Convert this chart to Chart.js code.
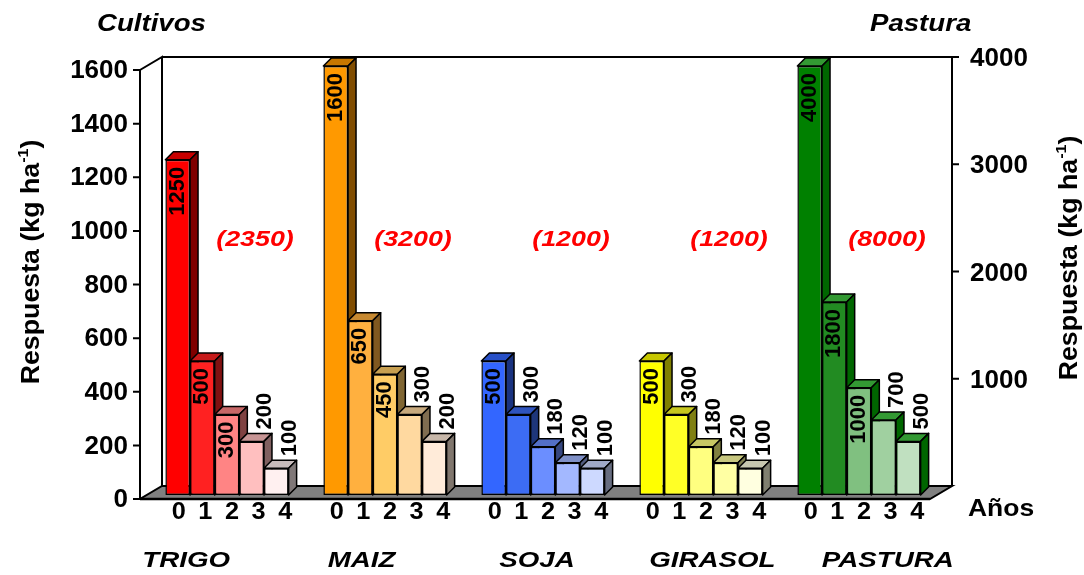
<!DOCTYPE html>
<html><head><meta charset="utf-8">
<script src="https://cdn.jsdelivr.net/npm/chart.js@4.4.1/dist/chart.umd.min.js"></script>
<style>html,body{margin:0;padding:0;background:#fff}canvas{display:block}</style>
</head><body>
<canvas id="c" width="1084" height="575"></canvas>
<script>
// ---------- data ----------
const groups = ['TRIGO', 'MAIZ', 'SOJA', 'GIRASOL', 'PASTURA'];
const years = ['0', '1', '2', '3', '4'];
const trigo = [1250, 500, 300, 200, 100];
const maiz = [1600, 650, 450, 300, 200];
const soja = [500, 300, 180, 120, 100];
const girasol = [500, 300, 180, 120, 100];
const pastura = [4000, 1800, 1000, 700, 500];
const leftTicks = [0, 200, 400, 600, 800, 1000, 1200, 1400, 1600];
const rightTicks = [1000, 2000, 3000, 4000];
const leftTitle = 'Cultivos';
const rightTitle = 'Pastura';
const axisTitle = ['Respuesta (kg ha', '-1', ')'];
const yearsTitle = 'Años';

const cropSeries = [trigo, maiz, soja, girasol];

// ---------- styles ----------
const FONT = '"Liberation Sans", Arial, Helvetica, sans-serif';
const colors = {
  TRIGO:   ['#FF0000', '#FF2121', '#FF8484', '#FFBFBF', '#FFF0F0'],
  MAIZ:    ['#FF9900', '#FFB03F', '#FFCC66', '#FFD9A0', '#FFEBD9'],
  SOJA:    ['#3366FF', '#3C6CF4', '#6B8EFF', '#A3B8FF', '#CDD9FF'],
  GIRASOL: ['#FFFF00', '#FFFF26', '#FFFF80', '#FFFFA3', '#FFFFE0'],
  PASTURA: ['#008000', '#228B22', '#80C080', '#A0D0A0', '#C0E0C0']
};
const pasturaTop = '#339933', pasturaSide = '#006600';
const labelsInside = [3, 3, 1, 1, 3];

function shade(hex, f) {
  const n = parseInt(hex.slice(1), 16);
  const r = Math.round(((n >> 16) & 255) * f), g = Math.round(((n >> 8) & 255) * f), b = Math.round((n & 255) * f);
  return 'rgb(' + r + ',' + g + ',' + b + ')';
}

const datasets = [];
years.forEach((yr, k) => {
  datasets.push({
    label: 'Año ' + yr, yAxisID: 'y',
    data: cropSeries.map(s => s[k]).concat([null]),
    backgroundColor: groups.slice(0, 4).map(g => colors[g][k]).concat(['rgba(0,0,0,0)'])
  });
});
years.forEach((yr, k) => {
  datasets.push({
    label: 'Pastura año ' + yr, yAxisID: 'y2',
    data: [null, null, null, null, pastura[k]],
    backgroundColor: colors.PASTURA[k]
  });
});

// 3D geometry
const DX = 22, DY = -13;   // frame depth
const BX = 8, BY = -8;     // bar depth

function poly(ctx, pts, fill) {
  ctx.beginPath();
  ctx.moveTo(pts[0][0], pts[0][1]);
  for (let i = 1; i < pts.length; i++) ctx.lineTo(pts[i][0], pts[i][1]);
  ctx.closePath();
  if (fill) { ctx.fillStyle = fill; ctx.fill(); }
  ctx.stroke();
}
function txt(ctx, s, x, y, o) {
  ctx.save();
  ctx.translate(x, y);
  if (o.rot) ctx.rotate(o.rot);
  ctx.scale(o.sx || 1, 1);
  ctx.font = o.font;
  ctx.textAlign = o.align || 'left';
  ctx.textBaseline = o.baseline || 'middle';
  ctx.fillStyle = o.color || '#000';
  ctx.fillText(s, 0, 0);
  ctx.restore();
}
function drawAxisTitle(ctx, cx, cy) {
  ctx.save();
  ctx.translate(cx, cy);
  ctx.rotate(-Math.PI / 2);
  ctx.scale(1.07, 1);
  const f1 = 'bold 25px ' + FONT, f2 = 'bold 15px ' + FONT;
  ctx.font = f1;
  const w1 = ctx.measureText(axisTitle[0]).width, w3 = ctx.measureText(axisTitle[2]).width;
  ctx.font = f2;
  const w2 = ctx.measureText(axisTitle[1]).width;
  const x0 = -(w1 + w2 + w3) / 2, base = 9;
  ctx.textAlign = 'left'; ctx.textBaseline = 'alphabetic'; ctx.fillStyle = '#000';
  ctx.font = f1; ctx.fillText(axisTitle[0], x0, base);
  ctx.font = f2; ctx.fillText(axisTitle[1], x0 + w1, base - 11);
  ctx.font = f1; ctx.fillText(axisTitle[2], x0 + w1 + w2, base);
  ctx.restore();
}

function barsOfGroup(chart, i) {
  const out = [];
  const start = i < 4 ? 0 : 5;
  for (let k = 0; k < 5; k++) {
    out.push(chart.getDatasetMeta(start + k).data[i]);
  }
  return out;
}

const threeD = {
  id: 'threeD',
  beforeDatasetsDraw(chart) {
    const ctx = chart.ctx, ca = chart.chartArea, ys = chart.scales.y, y2 = chart.scales.y2;
    const fx = ca.left - 8, fy0 = ys.getPixelForValue(0) + 4, fyTop = ys.getPixelForValue(leftTicks[leftTicks.length - 1]) + 4;
    const frx = ca.right - 8;
    const bx = fx + DX, brx = frx + DX, byTop = fyTop + DY, by0 = fy0 + DY;
    ctx.save();
    ctx.strokeStyle = '#000'; ctx.lineWidth = 2; ctx.lineJoin = 'miter';
    ctx.beginPath();
    ctx.moveTo(fx, fy0); ctx.lineTo(fx, fyTop); ctx.lineTo(bx, byTop); ctx.lineTo(bx, by0);
    ctx.moveTo(bx, byTop); ctx.lineTo(brx, byTop); ctx.lineTo(brx, by0);
    ctx.stroke();
    poly(ctx, [[fx, fy0], [frx, fy0], [brx, by0], [bx, by0]], '#808080');
    ctx.lineWidth = 2.5;
    ctx.beginPath(); ctx.moveTo(fx, fy0); ctx.lineTo(frx, fy0); ctx.stroke();
    ctx.lineWidth = 2;
    ctx.beginPath();
    leftTicks.forEach(v => { const y = ys.getPixelForValue(v) + 4; ctx.moveTo(fx - 7, y); ctx.lineTo(fx, y); });
    rightTicks.forEach(v => { const y = y2.getPixelForValue(v) + 4 + DY; ctx.moveTo(brx, y); ctx.lineTo(brx + 7, y); });
    ctx.stroke();
    ctx.restore();
  },
  afterDatasetsDraw(chart) {
    const ctx = chart.ctx, ys = chart.scales.y, xs = chart.scales.x;
    const fy0 = ys.getPixelForValue(0) + 4;
    const allData = [trigo, maiz, soja, girasol, pastura];
    ctx.save();
    ctx.strokeStyle = '#000'; ctx.lineWidth = 1.5; ctx.lineJoin = 'round';
    for (let i = 0; i < groups.length; i++) {
      const bars = barsOfGroup(chart, i);
      const base = colors[groups[i]];
      bars.forEach((el, k) => {
        if (k > 0) el.draw(ctx);
        const p = el.getProps(['x', 'y', 'base', 'width'], true);
        const l = p.x - p.width / 2, r = p.x + p.width / 2;
        const topC = i === 4 ? pasturaTop : shade(base[k], 0.78);
        const sideC = i === 4 ? pasturaSide : shade(base[k], 0.5);
        ctx.strokeStyle = '#000'; ctx.lineWidth = 1.5;
        poly(ctx, [[l, p.y], [l + BX, p.y + BY], [r + BX, p.y + BY], [r, p.y]], topC);
        poly(ctx, [[r, p.y], [r + BX, p.y + BY], [r + BX, p.base + BY], [r, p.base]], sideC);
      });
    }
    for (let i = 0; i < groups.length; i++) {
      const bars = barsOfGroup(chart, i);
      const vals = allData[i];
      bars.forEach((el, k) => {
        const p = el.getProps(['x', 'y', 'base', 'width'], true);
        const inside = k < labelsInside[i];
        const font = 'bold 22px ' + FONT;
        if (inside) {
          txt(ctx, String(vals[k]), p.x, p.y + 7, { font, rot: -Math.PI / 2, align: 'right' });
        } else {
          txt(ctx, String(vals[k]), p.x + p.width / 2 + 1, p.y - 12, { font, rot: -Math.PI / 2, align: 'left' });
        }
        txt(ctx, years[k], p.x + 1 + 2 * k, fy0 + 14, { font: 'bold 23px ' + FONT, align: 'center', sx: 1.1 });
      });
      const total = vals.reduce((a, b) => a + b, 0);
      txt(ctx, '(' + total + ')', xs.getPixelForValue(i) + 28, ys.getPixelForValue(950), { font: 'italic bold 22px ' + FONT, align: 'center', color: '#FF0000', sx: 1.22 });
      const mid = xs.getPixelForValue(2);
      const cx = xs.getPixelForValue(i);
      txt(ctx, groups[i], mid + (cx - mid) * 1.11 - 6, fy0 + 62, { font: 'italic bold 22px ' + FONT, align: 'center', sx: 1.26 });
    }
    ctx.restore();
  },
  afterDraw(chart) {
    const ctx = chart.ctx, ca = chart.chartArea, ys = chart.scales.y;
    const fy0 = ys.getPixelForValue(0) + 4;
    txt(ctx, leftTitle, 97, 25, { font: 'italic bold 23px ' + FONT, sx: 1.2 });
    txt(ctx, rightTitle, 870, 25, { font: 'italic bold 23px ' + FONT, sx: 1.2 });
    txt(ctx, yearsTitle, ca.right + 30, fy0 + 11, { font: 'bold 23px ' + FONT, sx: 1.15 });
    drawAxisTitle(ctx, 30, 262);
    drawAxisTitle(ctx, 1068, 258);
  }
};

new Chart(document.getElementById('c'), {
  type: 'bar',
  data: { labels: groups, datasets },
  plugins: [threeD],
  options: {
    responsive: false, animation: false, events: [], devicePixelRatio: 1,
    layout: { padding: { top: 66, bottom: 80, left: 0, right: 0 } },
    datasets: { bar: { skipNull: true, categoryPercentage: 0.78, barPercentage: 1, borderColor: '#000', borderWidth: 1.5, borderSkipped: false } },
    plugins: { legend: { display: false }, tooltip: { enabled: false } },
    scales: {
      x: { type: 'category', display: false, offset: true },
      y: {
        position: 'left', min: 0, max: 1600,
        afterBuildTicks: s => { s.ticks = leftTicks.map(v => ({ value: v })); },
        afterFit: s => { s.width = 148; },
        grid: { display: false, drawTicks: false }, border: { display: false },
        ticks: { padding: 20, labelOffset: 5, color: '#000', callback: v => String(v), font: { family: FONT, size: 26, weight: 'bold' } }
      },
      y2: {
        position: 'right', min: 0, max: 4000,
        afterBuildTicks: s => { s.ticks = rightTicks.map(v => ({ value: v })); },
        afterFit: s => { s.width = 146; },
        grid: { display: false, drawTicks: false, drawOnChartArea: false }, border: { display: false },
        ticks: { padding: 32, labelOffset: -7, color: '#000', callback: v => String(v), font: { family: FONT, size: 26, weight: 'bold' } }
      }
    }
  }
});
</script>
</body></html>
